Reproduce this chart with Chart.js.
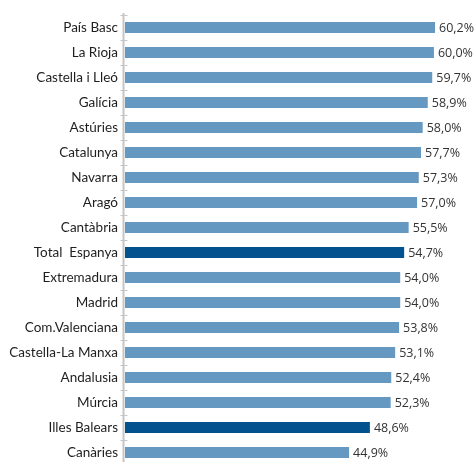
<!DOCTYPE html>
<html>
<head>
<meta charset="utf-8">
<script src="https://cdn.jsdelivr.net/npm/chart.js@4/dist/chart.umd.min.js"></script>
<style>
  html, body { margin: 0; padding: 0; background: #fff; overflow: hidden; }
  #wrap { position: relative; width: 474px; height: 480px; }
</style>
</head>
<body>
<div id="wrap"><canvas id="c"></canvas></div>
<script>
const categories = ["País Basc", "La Rioja", "Castella i Lleó", "Galícia", "Astúries", "Catalunya", "Navarra", "Aragó", "Cantàbria", "Total  Espanya", "Extremadura", "Madrid", "Com.Valenciana", "Castella-La Manxa", "Andalusia", "Múrcia", "Illes Balears", "Canàries"];
const values = [60.2, 60.0, 59.7, 58.9, 58.0, 57.7, 57.3, 57.0, 55.5, 54.7, 54.0, 54.0, 53.8, 53.1, 52.4, 52.3, 48.6, 44.9];
const highlighted = ["Total  Espanya", "Illes Balears"];

const LIGHT = "#6699C1";
const DARK = "#02528F";

const fmt = v => v.toFixed(1).replace(".", ",") + "%";

const axisPlugin = {
  id: "axisCross",
  afterDatasetsDraw(chart) {
    const ctx = chart.ctx;
    const y = chart.scales.y;
    const area = chart.chartArea;
    const x0 = area.left - 1.5;
    const step = y.getPixelForValue(1) - y.getPixelForValue(0);
    ctx.save();
    ctx.strokeStyle = "#C6C6C6";
    ctx.lineWidth = 2;
    ctx.beginPath();
    ctx.moveTo(x0, area.top - 2);
    ctx.lineTo(x0, area.bottom);
    ctx.stroke();
    ctx.lineWidth = 1;
    const n = categories.length;
    for (let i = 0; i <= n; i++) {
      const py = Math.round(y.getPixelForValue(0) - step / 2 + i * step) + 0.5;
      ctx.beginPath();
      ctx.moveTo(x0 - 3, py);
      ctx.lineTo(x0 + 4, py);
      ctx.stroke();
    }
    // value labels
    ctx.fillStyle = "#333333";
    ctx.font = "12.5px 'Open Sans', sans-serif";
    ctx.textBaseline = "middle";
    ctx.textAlign = "left";
    const meta = chart.getDatasetMeta(0);
    meta.data.forEach((bar, i) => {
      ctx.fillText(fmt(values[i]), bar.x + 4, bar.y + 1);
    });
    ctx.restore();
  }
};

new Chart(document.getElementById("c"), {
  type: "bar",
  data: {
    labels: categories,
    datasets: [{
      data: values,
      backgroundColor: categories.map(c => highlighted.includes(c) ? DARK : LIGHT),
      borderWidth: 0,
      barPercentage: 0.44,
      categoryPercentage: 1.0
    }]
  },
  options: {
    indexAxis: "y",
    responsive: true,
    maintainAspectRatio: false,
    animation: false,
    layout: { padding: { top: 11, right: 12, bottom: 0, left: 0 } },
    plugins: { legend: { display: false }, tooltip: { enabled: false } },
    scales: {
      x: {
        display: false,
        min: 5,
        max: 65
      },
      y: {
        offset: true,
        border: { display: false },
        grid: { display: false, drawTicks: false },
        ticks: {
          color: "#1E1E1E",
          padding: 7,
          font: { family: "Lato", size: 13.5 }
        },
        afterFit(scale) { scale.width = 125; }
      }
    }
  },
  plugins: [axisPlugin]
});
</script>
</body>
</html>
